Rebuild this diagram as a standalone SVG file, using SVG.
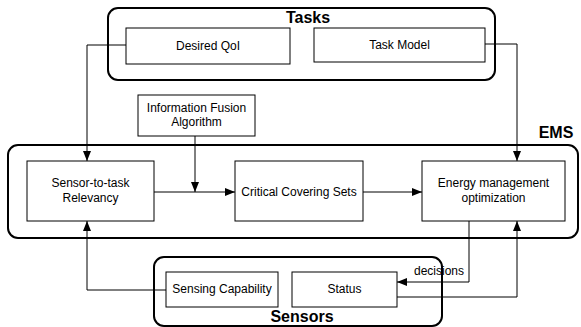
<svg xmlns="http://www.w3.org/2000/svg" width="581" height="327" viewBox="0 0 581 327">
<style>
.grp{fill:none;stroke:#000;stroke-width:2}
.box{fill:#fff;stroke:#000;stroke-width:1}
.t{font-family:"Liberation Sans",Arial,sans-serif;font-size:12px;text-anchor:middle;fill:#000}
.b{font-family:"Liberation Sans",Arial,sans-serif;font-size:16px;font-weight:bold;text-anchor:middle;fill:#000}
.c{fill:none;stroke:#000;stroke-width:1}
</style>
<defs>
<marker id="ah" markerWidth="10" markerHeight="8" refX="10" refY="4" orient="auto" markerUnits="userSpaceOnUse">
<path d="M0,0 L10,4 L0,8 Z" fill="#000"/>
</marker>
</defs>
<g id="tasks">
<rect class="grp" x="108" y="8" width="387" height="72" rx="10"/>
<text class="b" x="308" y="23">Tasks</text>
</g>
<g id="ems">
<rect class="grp" x="8" y="145" width="570" height="93" rx="10"/>
<text class="b" x="556" y="138">EMS</text>
</g>
<g id="sensors">
<rect class="grp" x="154" y="257" width="288" height="69" rx="10"/>
<text class="b" x="302" y="322">Sensors</text>
</g>
<g id="connectors">
<polyline class="c" points="126,45 87,45 87,161" marker-end="url(#ah)"/>
<polyline class="c" points="485,44 517,44 517,161" marker-end="url(#ah)"/>
<polyline class="c" points="195,136 195,192" marker-end="url(#ah)"/>
<polyline class="c" points="154,192 235,192" marker-end="url(#ah)"/>
<polyline class="c" points="363,192 422,192" marker-end="url(#ah)"/>
<polyline class="c" points="469,221 469,282 397,282" marker-end="url(#ah)"/>
<polyline class="c" points="397,297 517,297 517,221" marker-end="url(#ah)"/>
<polyline class="c" points="166,290 87,290 87,221" marker-end="url(#ah)"/>
<text class="t" x="439" y="275">decisions</text>
</g>
<g id="desired-qoi">
<rect class="box" x="126" y="28" width="164" height="36"/>
<text class="t" x="208" y="50">Desired QoI</text>
</g>
<g id="task-model">
<rect class="box" x="314" y="28" width="171" height="34"/>
<text class="t" x="399.5" y="49">Task Model</text>
</g>
<g id="info-fusion">
<rect class="box" x="138" y="95" width="117" height="41"/>
<text class="t" x="196.5" y="112">Information Fusion</text>
<text class="t" x="196.5" y="126">Algorithm</text>
</g>
<g id="relevancy">
<rect class="box" x="27" y="161" width="127" height="60"/>
<text class="t" x="90.5" y="187">Sensor-to-task</text>
<text class="t" x="90.5" y="202">Relevancy</text>
</g>
<g id="critical">
<rect class="box" x="235" y="161" width="128" height="60"/>
<text class="t" x="299" y="196">Critical Covering Sets</text>
</g>
<g id="energy">
<rect class="box" x="422" y="161" width="143" height="60"/>
<text class="t" x="493.5" y="187">Energy management</text>
<text class="t" x="493.5" y="202">optimization</text>
</g>
<g id="sensing">
<rect class="box" x="166" y="272" width="112" height="35"/>
<text class="t" x="222" y="293">Sensing Capability</text>
</g>
<g id="status">
<rect class="box" x="292" y="272" width="105" height="35"/>
<text class="t" x="344.5" y="293">Status</text>
</g>
</svg>
